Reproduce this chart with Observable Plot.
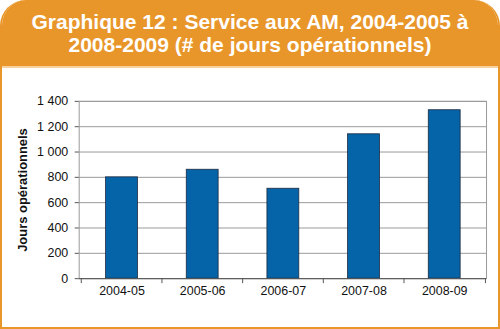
<!DOCTYPE html>
<html><head><meta charset="utf-8">
<script src="https://cdn.jsdelivr.net/npm/d3@7"></script>
<script src="https://cdn.jsdelivr.net/npm/@observablehq/plot@0.6"></script>
<style>
html,body{margin:0;padding:0;background:#fff;}
#card{position:relative;width:500px;height:329px;box-sizing:border-box;border:2px solid #E8962A;border-top:none;border-radius:26px 26px 0 0;overflow:hidden;background:#fff;}
#head{position:absolute;left:-2px;top:0;width:500px;height:68px;background:#E8962A;border-bottom:2px solid #F7D2A0;box-sizing:border-box;color:#fff;font:bold 21px "Liberation Sans",Arial,sans-serif;text-align:center;line-height:23px;padding-top:10px;}
#chart{position:absolute;left:-2px;top:68px;}
#chart g[aria-label="y-axis label"]{font-weight:bold;font-size:13px;}
</style></head>
<body>
<div id="card"><div id="head">Graphique 12 : Service aux AM, 2004-2005 à<br>2008-2009 (# de jours opérationnels)</div><div id="chart"></div></div>
<script>
const categories = ["2004-05","2005-06","2006-07","2007-08","2008-09"];
const values = [800, 860, 710, 1140, 1330];
const yTicks = [0,200,400,600,800,1000,1200,1400];
const yLabel = "Jours opérationnels";

const data = categories.map((c,i)=>({cat:c, v:values[i]}));
const W = 500, ML = 79, MR = 12;
const bw = (W-ML-MR)/categories.length;
const fmt = d => d3.format(",")(d).replace(/,/g, " ");
const font = '"Liberation Sans Narrow","Arial Narrow","Liberation Sans",Arial,sans-serif';

const chart = Plot.plot({
  width: W, height: 259,
  marginLeft: ML, marginRight: MR, marginTop: 33, marginBottom: 48,
  style: {fontFamily: font, fontSize: "12.5px", color: "#111", background: "transparent"},
  x: {domain: categories, paddingInner: 0.61, paddingOuter: 0.305},
  y: {domain: [0,1400]},
  marks: [
    Plot.gridY(yTicks, {stroke: "#999", strokeOpacity: 1, strokeWidth: 1}),
    Plot.frame({stroke: "#999"}),
    Plot.barY(data, {x: "cat", y: "v", fill: "#0563A8", stroke: "#1d2a40", strokeWidth: 0.8}),
    Plot.axisY({ticks: yTicks, tickFormat: fmt, tickSize: 4, tickPadding: 7, stroke: "#555",
      label: yLabel, labelAnchor: "center", labelArrow: "none", labelOffset: 62,
      fontSize: "12.5px"}),
    Plot.axisX({tickSize: 5, tickFormat: () => "", dx: -bw/2, stroke: "#555", label: null}),
    Plot.axisX({ticks: [categories[categories.length-1]], tickSize: 5, tickFormat: () => "", dx: bw/2, stroke: "#555", label: null}),
    Plot.axisX({tickSize: 0, tickPadding: 8, label: null, fontSize: "12.5px"}),
    Plot.ruleY([0], {stroke: "#555"}),
    Plot.ruleX([0], {x: () => 0, stroke: "#555"})
  ]
});
document.getElementById("chart").appendChild(chart);
</script>
</body></html>
